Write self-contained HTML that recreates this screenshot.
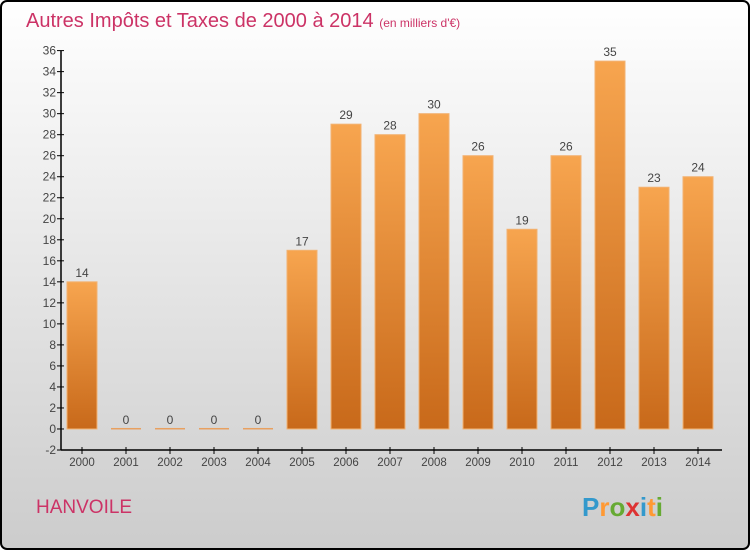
<!DOCTYPE html>
<html><head><meta charset="utf-8"><style>
html,body{margin:0;padding:0;}
body{width:750px;height:550px;overflow:hidden;font-family:"Liberation Sans",sans-serif;}
</style></head><body>
<svg id="chart" width="750" height="550" xmlns="http://www.w3.org/2000/svg">
<defs>
<linearGradient id="bg" x1="0" y1="0" x2="0" y2="1"><stop offset="0" stop-color="#ffffff"/><stop offset="1" stop-color="#cccccc"/></linearGradient>
<linearGradient id="bar" x1="0" y1="0" x2="0" y2="1"><stop offset="0" stop-color="#f7a54f"/><stop offset="1" stop-color="#c8691a"/></linearGradient>
</defs>
<rect x="1" y="1" width="748" height="548" rx="6" fill="url(#bg)" stroke="#000" stroke-width="2"/>
<text x="26" y="27" font-size="20" fill="#cc3366" font-weight="300">Autres Impôts et Taxes de 2000 à 2014 <tspan font-size="12">(en milliers d'€)</tspan></text>
<text x="36" y="513" font-size="19" fill="#cc3366">HANVOILE</text>
<g font-size="26" font-weight="bold">
<text x="582" y="516"><tspan fill="#3399cc">P</tspan><tspan fill="#ff9933">r</tspan><tspan fill="#66aa33">o</tspan><tspan fill="#dd3333">x</tspan><tspan fill="#3399cc">i</tspan><tspan fill="#ff9933">t</tspan><tspan fill="#66aa33">i</tspan></text>
</g>
<g id="axes"></g>
<g id="bars"></g>
</svg>
<script>
const categories=["2000","2001","2002","2003","2004","2005","2006","2007","2008","2009","2010","2011","2012","2013","2014"];
const values=[14,0,0,0,0,17,29,28,30,26,19,26,35,23,24];
const yTicks=[-2,0,2,4,6,8,10,12,14,16,18,20,22,24,26,28,30,32,34,36];
const NS="http://www.w3.org/2000/svg";
const yMin=-2,yMax=36,plotTop=50.6,plotBottom=450;
function y(v){return plotBottom-(v-yMin)/(yMax-yMin)*(plotBottom-plotTop);}
function x(i){return 82+i*44;}
function el(t,a,p){const e=document.createElementNS(NS,t);for(const k in a)e.setAttribute(k,a[k]);p.appendChild(e);return e;}
const ax=document.getElementById('axes'),bg=document.getElementById('bars');
const yl=el('line',{x1:61,y1:plotTop,x2:61,y2:plotBottom,stroke:'#000','stroke-width':1.5},ax);


const xl=el('line',{x1:61,y1:plotBottom,x2:722,y2:plotBottom,stroke:'#000','stroke-width':1.5},ax);


yTicks.forEach(v=>{
 el('line',{x1:57,y1:y(v),x2:64,y2:y(v),stroke:'#000'},ax);
 const t=el('text',{x:56,y:y(v)+4,'text-anchor':'end','font-size':12,fill:'#444'},ax);
 t.textContent=v;
 
 
});
categories.forEach((c,i)=>{
 el('line',{x1:x(i),y1:plotBottom-3,x2:x(i),y2:plotBottom+4,stroke:'#000'},ax);
 const t=el('text',{x:x(i),y:plotBottom+16,'text-anchor':'middle','font-size':11.5,fill:'#444'},ax);
 t.textContent=c;
 
 
 const v=values[i];
 let r;
 if(v===0){r=el('rect',{x:x(i)-15,y:y(0)-1,width:30,height:1.5,fill:'#e8a060'},bg);}
 else{r=el('rect',{x:x(i)-15,y:y(v),width:30,height:y(0)-y(v),fill:'url(#bar)',stroke:'#f2b272','stroke-width':1},bg);}
 
 
 const l=el('text',{x:x(i),y:y(v)-5,'text-anchor':'middle','font-size':12,fill:'#444'},bg);
 l.textContent=v;
 
 
});
</script>
</body></html>
